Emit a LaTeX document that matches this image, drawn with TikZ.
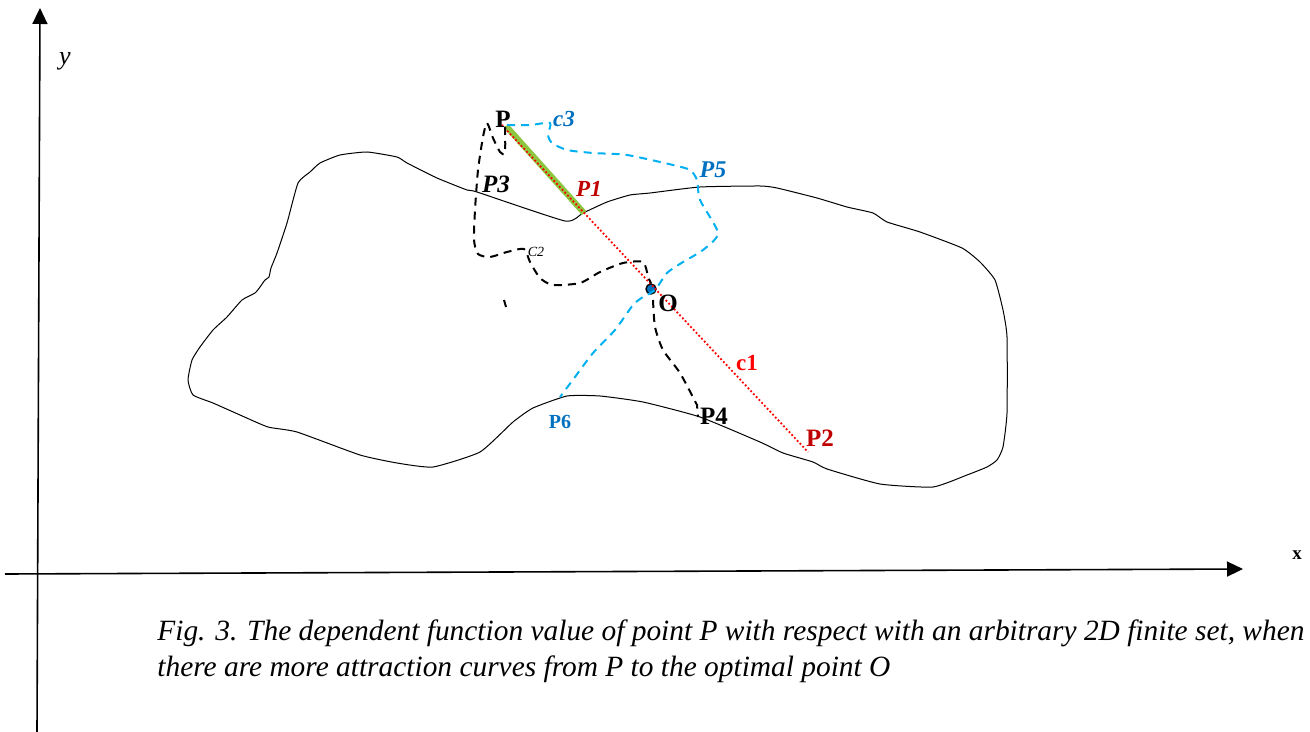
\documentclass[tikz,border=0pt]{standalone}
\usepackage{fontspec}
\setmainfont{Liberation Serif}
\usetikzlibrary{arrows.meta}
\definecolor{lblue}{HTML}{00B0F0}
\definecolor{dblue}{HTML}{0070C0}
\definecolor{dred}{HTML}{C00000}
\definecolor{lgreen}{HTML}{8DC63F}
\begin{document}
\begin{tikzpicture}[x=0.5pt,y=-0.5pt,
  axisline/.style={line width=0.8pt,-{Triangle[length=8pt,width=7.5pt]}},
  blob/.style={line width=0.5pt,line join=round},
  bdash/.style={line width=1pt,dash pattern=on 4pt off 3pt,black},
  cdash/.style={line width=1pt,dash pattern=on 4pt off 3pt,lblue},
  rdot/.style={line width=0.9pt,dash pattern=on 0.9pt off 1.1pt,red},
  gbar/.style={line width=3pt,lgreen},
  lbl/.style={inner sep=0pt,font=\bfseries\fontsize{12.5}{14}\selectfont},
  odot/.style={circle,draw=black,fill=dblue,line width=0.7pt,minimum size=5pt,inner sep=0pt}]
\useasboundingbox (0,0) rectangle (1310,732);
% axes
\coordinate (ybot) at (37,732);
\coordinate (ytop) at (40,8);
\coordinate (xl) at (5,574);
\coordinate (xr) at (1243,569);
\draw[axisline] (ybot) -- (ytop);
\draw[axisline] (xl) -- (xr);
\node[inner sep=0pt,font=\itshape\fontsize{13}{15}\selectfont] (ylab) at (65,61) {y};
\node[inner sep=0pt,font=\bfseries\fontsize{9.5}{11}\selectfont] (xlab) at (1297,555) {x};
% closed set
\draw[blob] plot[smooth cycle,tension=0.3] coordinates {
 (188,380) (192,360) (200,347) (213,330) (227,317) (242,300) (255,293) (260,287)
 (265,280) (269,277) (271,268) (277,253) (287,223) (298,183) (310,172) (320,163)
 (340,155) (367,152) (397,157) (407,163) (437,178) (467,190) (477,192) (565,221)
 (583,213) (607,202) (630,195) (650,193) (700,187) (760,186) (777,188) (817,198)
 (847,207) (873,213) (887,222) (920,232) (962,248) (980,262) (995,280) (1003,310)
 (1007,337) (1007,413) (1003,447) (997,460) (987,467) (967,475) (933,487) (880,484)
 (827,469) (813,462) (783,453) (760,442) (700,417) (643,402) (600,396) (567,396)
 (533,408) (513,422) (480,452) (433,467) (397,463) (360,455) (297,432) (268,427)
 (240,415) (213,403) (193,395)};
% key points
\coordinate (Pp) at (506,126);
\coordinate (P1p) at (584,213);
\coordinate (Rs) at (499,122);
\coordinate (P2p) at (808,452);
\coordinate (P4p) at (698,417);
\coordinate (P6p) at (560,397);
\node[odot] (O) at (651,289) {};
% green segment and red dotted line c1
\draw[gbar] (Pp) -- (P1p);
\draw[rdot] (Rs) -- (P2p);
% black dashed curve c2: P -> O
\draw[bdash] plot[smooth,tension=0.4] coordinates {
 (505,127) (505,153) (500,152) (493,138) (487,123) (483,137) (478,170) (475,210)
 (474,240) (478,254) (490,257) (507,252) (524,249) (530,262) (540,278) (553,285)
 (580,283) (600,272) (623,263) (643,262) (648,277)} -- (O.north);
% black dashed curve: O -> P4
\draw[bdash] (O.south) plot[smooth,tension=0.4] coordinates {
 (653,300) (655,327) (663,350) (680,373) (697,405)} -- (P4p);
\coordinate (sd1) at (504,300);
\coordinate (sd2) at (506,307);
\draw[line width=1pt] (sd1) -- (sd2);
% blue dashed curve c3: P -> O -> P6
\draw[cdash] plot[smooth,tension=0.4] coordinates {
 (507,125) (530,125) (550,123) (548,135) (552,143) (567,150) (593,153) (627,155)
 (673,165) (690,170) (697,180) (700,200) (718,233) (703,250) (683,262) (667,273)
 (655,290) (643,297) (633,305) (615,330) (593,353) (575,377)} -- (P6p);
% labels
\node[lbl] (Plab) at (503,119) {P};
\node[lbl,font=\bfseries\itshape\fontsize{11.5}{13}\selectfont,text=dblue] (c3lab) at (564,119) {c3};
\node[lbl,font=\bfseries\itshape\fontsize{12}{14}\selectfont,text=dblue] (P5lab) at (713,170) {P5};
\node[lbl,font=\bfseries\itshape\fontsize{12.5}{14}\selectfont] (P3lab) at (496,184) {P3};
\node[lbl,font=\bfseries\itshape\fontsize{11.5}{13}\selectfont,text=dred] (P1lab) at (589,189) {P1};
\node[lbl,font=\itshape\fontsize{7}{8}\selectfont] (C2lab) at (536,252) {C2};
\node[lbl,font=\bfseries\fontsize{12.5}{14}\selectfont] (Olab) at (668,303) {O};
\node[lbl,font=\bfseries\fontsize{11.5}{13}\selectfont,text=red] (c1lab) at (747,363) {c1};
\node[lbl] (P4lab) at (714,416) {P4};
\node[lbl,text=dred] (P2lab) at (820,438) {P2};
\node[lbl,font=\bfseries\fontsize{10}{12}\selectfont,text=dblue] (P6lab) at (560,422) {P6};
% caption
\node[anchor=base west,inner sep=0pt,font=\itshape\fontsize{14.7}{17}\selectfont] (cap1) at (157,640)
 {Fig. 3. The dependent function value of point P with respect with an arbitrary 2D finite set, when};
\node[anchor=base west,inner sep=0pt,font=\itshape\fontsize{14.7}{17}\selectfont] (cap2) at (157,676)
 {there are more attraction curves from P to the optimal point O};
\end{tikzpicture}
\end{document}
